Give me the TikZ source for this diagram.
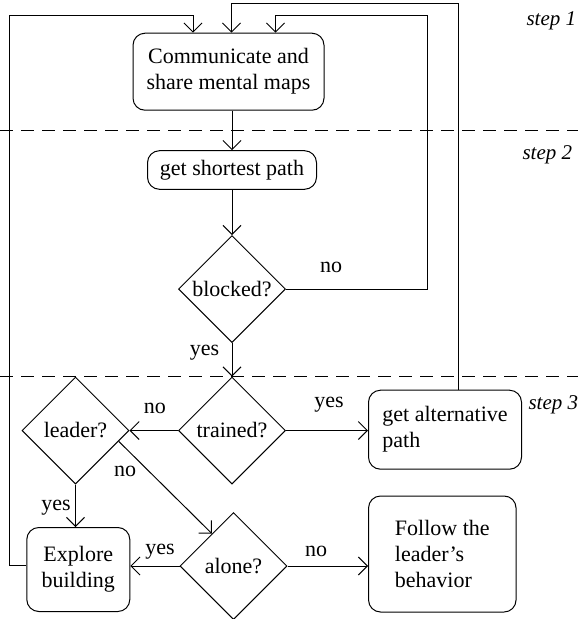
\documentclass[tikz,border=0pt]{standalone}
\usepackage{fontspec}
\setmainfont{Liberation Serif}
\usetikzlibrary{shapes.geometric,arrows.meta,calc}

\tikzset{
  box/.style={draw, rounded corners=12pt, inner sep=0pt, align=center},
  ask/.style={draw, diamond, inner sep=0pt, minimum width=107pt, minimum height=107pt},
  arr/.style={-{Straight Barb[length=9pt,width=18pt]}},
  lbl/.style={inner sep=0pt},
  steplbl/.style={inner sep=0pt, anchor=west, font=\fontsize{21}{25}\selectfont\itshape},
  divider/.style={dash pattern=on 13pt off 8pt, line width=1.3pt},
}

\begin{document}
\begin{tikzpicture}[x=1pt,y=1pt,yscale=-1,line width=1pt,font=\fontsize{22}{26}\selectfont]
\useasboundingbox (0,0) rectangle (578,619);

%Dashed Lines
\draw [divider] (0,130.7) -- (578,130.7) ;
\draw [divider] (0,376.2) -- (578,376.2) ;

%Shape: Boxes
\node [box, minimum width=191pt, minimum height=77pt] (comm) at (228.5,71.7) {Communicate and\\share mental maps};
\node [box, minimum width=169pt, minimum height=38.6pt] (short) at (232,170) {get shortest path};
\node [box, align=left, minimum width=153pt, minimum height=79pt] (alt) at (445,429.7) {get alternative\\path};
\node [box, minimum width=103pt, minimum height=84pt] (explore) at (78.3,569.5) {Explore\\building};
\node [box, align=left, minimum width=147.5pt, minimum height=116pt] (follow) at (442.3,554) {Follow the\\leader's\\behavior};

%Shape: Diamonds
\node [ask] (blocked) at (232,289) {blocked?};
\node [ask] (trained) at (232,430.5) {trained?};
\node [ask] (leader) at (75.5,430.5) {leader?};
\node [ask] (alone) at (233.5,566) {alone?};

%Straight Lines
\draw [arr] (comm.south -| short.north) -- (short.north) ;
\draw [arr] (short.south) -- (blocked.north) ;
\draw [arr] (blocked.south) -- (trained.north) ;
\draw [arr] (trained.east) -- (trained.east -| alt.west) ;
\draw [arr] (trained.west) -- (leader.east) ;
\draw [arr] (leader.south) -- (leader.south |- explore.north) ;
\draw [arr] ($(leader.east)!0.2!(leader.south)$) -- ($(alone.west)!0.6!(alone.north)$) ;
\draw [arr] (alone.west) -- (alone.west -| explore.east) ;
\draw [arr] (alone.east) -- (alone.east -| follow.west) ;

%Loops back to step 1
\draw [arr] (blocked.east) -| (427.6,15.7) -| ($(comm.north)+(47,0)$) ;
\draw [arr] ($(alt.north)+(13,0)$) |- (231.5,3.3) -- ($(comm.north)+(3,0)$) ;
\draw [arr] ($(explore.west)+(0,-4.5)$) -| (9.2,15.7) -| ($(comm.north)+(-35.5,0)$) ;

% Text Node
\node [lbl] (noA) at (331,267.5) {no};
% Text Node
\node [lbl] (yesA) at (204.6,352.7) {yes};
% Text Node
\node [lbl] (yesB) at (329,405) {yes};
% Text Node
\node [lbl] (noB) at (154.8,408) {no};
% Text Node
\node [lbl] (yesC) at (56,508) {yes};
% Text Node
\node [lbl] (noC) at (125,471.7) {no};
% Text Node
\node [lbl] (yesD) at (160,551.7) {yes};
% Text Node
\node [lbl] (noD) at (316,551.7) {no};

% Text Node
\node [steplbl] (stepA) at (526,21) {step 1};
% Text Node
\node [steplbl] (stepB) at (522,155) {step 2};
% Text Node
\node [steplbl] (stepC) at (528,405) {step 3};

\end{tikzpicture}
\end{document}
